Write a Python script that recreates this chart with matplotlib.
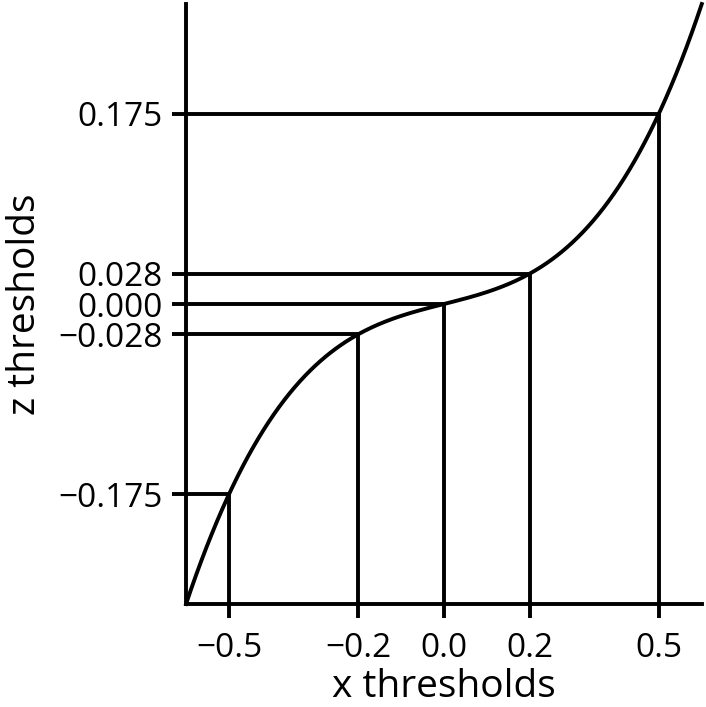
import numpy as np
import matplotlib
matplotlib.use("Agg")
import matplotlib.pyplot as plt

plt.rcParams['font.family'] = ['Open Sans', 'DejaVu Sans']

x_thresholds = [-0.5, -0.2, 0.0, 0.2, 0.5]
z_thresholds = [-0.175, -0.028, 0.0, 0.028, 0.175]
x_tick_labels = ['\u22120.5', '\u22120.2', '0.0', '0.2', '0.5']
z_tick_labels = ['\u22120.175', '\u22120.028', '0.000', '0.028', '0.175']

# smooth curve through the thresholds (cubic fit of the read points)
coef = np.polyfit(x_thresholds, z_thresholds, 3)
xmin, xmax = -0.6, 0.6
xs = np.linspace(xmin, xmax, 400)
zs = np.polyval(coef, xs)
zmin, zmax = np.polyval(coef, xmin), np.polyval(coef, xmax)

fig = plt.figure(figsize=(7.06, 7.07), dpi=100)
ax = fig.add_axes([0.2635, 0.1457, 0.7305, 0.8486])
lw = 2.8
ax.plot(xs, zs, color='black', lw=lw, clip_on=False)
for xv, zv in zip(x_thresholds, z_thresholds):
    ax.plot([xmin, xv], [zv, zv], color='black', lw=lw, solid_capstyle='butt')
    ax.plot([xv, xv], [zmin, zv], color='black', lw=lw, solid_capstyle='butt')

ax.set_xlim(xmin, xmax)
ax.set_ylim(zmin, zmax)
ax.set_xticks(x_thresholds)
ax.set_xticklabels(x_tick_labels)
ax.set_yticks(z_thresholds)
ax.set_yticklabels(z_tick_labels)
for s in ['top', 'right']:
    ax.spines[s].set_visible(False)
for s in ['left', 'bottom']:
    ax.spines[s].set_linewidth(lw)
ax.tick_params(axis='both', direction='out', length=10, width=lw, labelsize=24)
ax.tick_params(axis='y', pad=7)
ax.tick_params(axis='x', pad=10)
ax.set_xlabel('x thresholds', fontsize=28, labelpad=2)
ax.set_ylabel('z thresholds', fontsize=28, labelpad=10)
fig.savefig('out.png', dpi=100)
